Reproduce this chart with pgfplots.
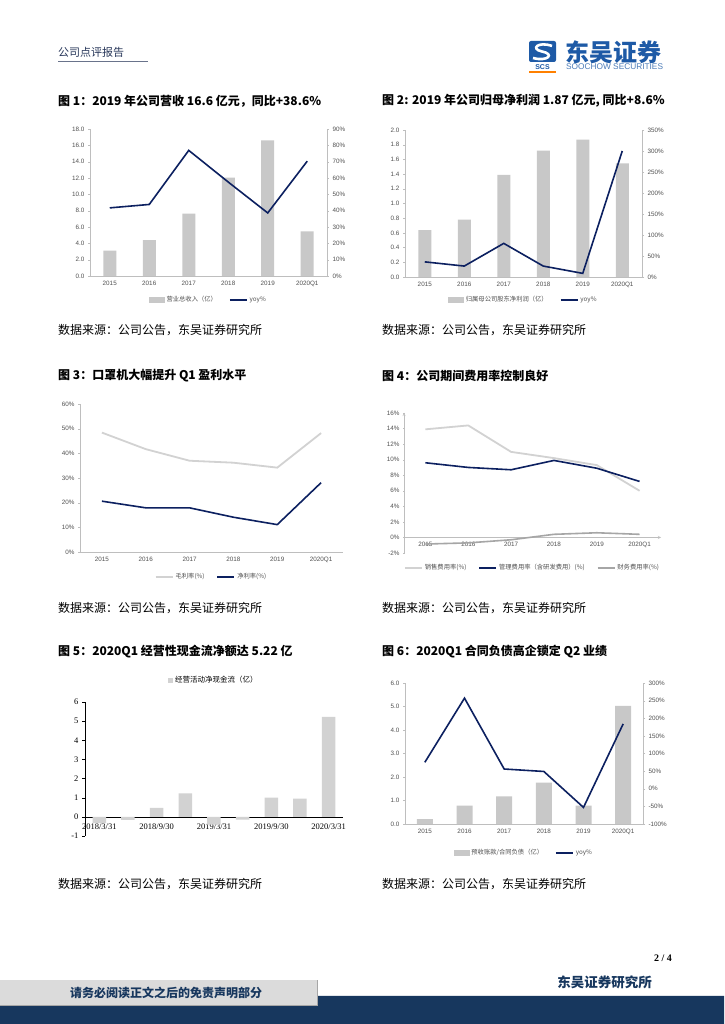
\documentclass[border=0pt]{standalone}
\usepackage{fontspec}
\setmainfont{Liberation Sans}
\newfontfamily\cjk{Noto Sans CJK SC}
\newfontfamily\tnr{Liberation Serif}
\usepackage{pgfplots}
\pgfplotsset{compat=1.18}

\definecolor{navy}{RGB}{12,32,96}
\definecolor{bargray}{RGB}{200,200,200}
\definecolor{lightln}{RGB}{210,210,210}
\definecolor{midln}{RGB}{166,166,166}
\definecolor{axgray}{RGB}{190,190,190}
\definecolor{lblgray}{RGB}{80,80,80}
\definecolor{footnavy}{RGB}{23,55,94}
\definecolor{logoblue}{RGB}{30,90,166}
\definecolor{hdrblue}{RGB}{40,55,90}

\pgfplotsset{
  base/.style={scale only axis, clip=false,
    /pgf/number format/assume math mode=true,
    ticklabel style={font=\fontsize{6.3}{7}\selectfont, text=lblgray},
    axis line style={axgray,-}, tick style={axgray},
    xmin=-0.5, xmax=5.5, xtick={0,...,5},
    xticklabels={2015,2016,2017,2018,2019,2020Q1},
    major x tick style={draw=none},
    tick align=outside, major tick length=2pt},
  pct/.style={yticklabel={\pgfmathprintnumber{\tick}\%}},
  dec/.style={yticklabel style={/pgf/number format/.cd, fixed, fixed zerofill, precision=1}},
  leg/.style={legend style={draw=none, fill=none,
    font=\fontsize{6.3}{7}\selectfont\cjk, text=lblgray,
    legend columns=-1, /tikz/every even column/.append style={column sep=10pt},
    anchor=center, at={(0.5,#1)}}},
}

\begin{document}
\begin{tikzpicture}[x=1pt,y=1pt]
\path[use as bounding box, fill=white] (0,0) rectangle (724,1024);

% header
\node[anchor=west, inner sep=0, text=hdrblue, font=\cjk\fontsize{11}{13}\selectfont] at (58,972) {公司点评报告};
\draw[hdrblue!70, line width=0.7pt] (58,963) -- (148,963);
\fill[logoblue, rounded corners=2pt] (529,962) rectangle (556,983);
\draw[white, line width=2.6pt] (552,978) .. controls (538,983) and (530,975) .. (542,972.5) .. controls (555,970) and (548,962) .. (533,966);
\node[text=logoblue, font=\bfseries\fontsize{7}{8}\selectfont, inner sep=0] at (542.5,957) {SCS};
\draw[orange, line width=1.5pt] (529,952) -- (556,952);
\node[anchor=west, inner sep=0, text=logoblue, font=\cjk\bfseries\fontsize{24}{26}\selectfont] at (565,972) {东吴证券};
\node[anchor=west, inner sep=0, text=logoblue!80, font=\fontsize{8.3}{9}\selectfont] at (566,957) {SOOCHOW SECURITIES};

% captions
\begin{scope}[every node/.style={anchor=west, inner sep=0, font=\cjk\bfseries\fontsize{12}{14}\selectfont}]
\node at (58,923) {图 1：2019 年公司营收 16.6 亿元，同比+38.6\%};
\node at (382,923) {图 2: 2019 年公司归母净利润 1.87 亿元, 同比+8.6\%};
\node at (58,648) {图 3：口罩机大幅提升 Q1 盈利水平};
\node at (382,648) {图 4：公司期间费用率控制良好};
\node at (58,372) {图 5：2020Q1 经营性现金流净额达 5.22 亿};
\node at (382,372) {图 6：2020Q1 合同负债高企锁定 Q2 业绩};
\end{scope}
\begin{scope}[every node/.style={anchor=west, inner sep=0, font=\cjk\fontsize{12}{14}\selectfont}]
\node at (58,694) {数据来源：公司公告，东吴证券研究所};
\node at (382,694) {数据来源：公司公告，东吴证券研究所};
\node at (58,416) {数据来源：公司公告，东吴证券研究所};
\node at (382,416) {数据来源：公司公告，东吴证券研究所};
\node at (58,140) {数据来源：公司公告，东吴证券研究所};
\node at (382,140) {数据来源：公司公告，东吴证券研究所};
\end{scope}

\coordinate (c1) at (90,748);
\coordinate (c2) at (405,747);
\coordinate (c3) at (80,472);
\coordinate (c4) at (404,471);
\coordinate (c5) at (85,188);
\coordinate (c6) at (405,200);

% chart 1
\begin{axis}[base, dec, at={(c1)}, anchor=south west, width=237pt, height=147pt,
  axis y line*=left, axis x line*=bottom, ymin=0, ymax=18, ytick={0,2,...,18}]
\addplot[ybar, bar width=13pt, fill=bargray, draw=none] coordinates {(0,3.1) (1,4.38) (2,7.65) (3,12.05) (4,16.6) (5,5.45)};
\end{axis}
\begin{axis}[base, pct, leg=-0.163, at={(c1)}, anchor=south west, width=237pt, height=147pt,
  axis y line*=right, axis x line=none, ymin=0, ymax=90, ytick={0,10,...,90}]
\addlegendimage{legend image code/.code={\fill[bargray] (0pt,-2.5pt) rectangle (15pt,2.5pt);}}
\addlegendentry{营业总收入（亿）}
\addplot[navy, line width=1.6pt] coordinates {(0,41.7) (1,43.8) (2,76.9) (3,57.5) (4,38.6) (5,70.3)};
\addlegendentry{yoy\%}
\end{axis}

% chart 2
\begin{axis}[base, dec, at={(c2)}, anchor=south west, width=237pt, height=147pt,
  axis y line*=left, axis x line*=bottom, ymin=0, ymax=2, ytick={0,0.2,...,2.01}]
\addplot[ybar, bar width=13pt, fill=bargray, draw=none] coordinates {(0,0.636) (1,0.78) (2,1.39) (3,1.72) (4,1.87) (5,1.545)};
\end{axis}
\begin{axis}[base, pct, leg=-0.156, at={(c2)}, anchor=south west, width=237pt, height=147pt,
  axis y line*=right, axis x line=none, ymin=0, ymax=350, ytick={0,50,...,350}]
\addlegendimage{legend image code/.code={\fill[bargray] (0pt,-2.5pt) rectangle (15pt,2.5pt);}}
\addlegendentry{归属母公司股东净利润（亿）}
\addplot[navy, line width=1.6pt] coordinates {(0,36) (1,26) (2,80) (3,26) (4,8.6) (5,300)};
\addlegendentry{yoy\%}
\end{axis}

% chart 3
\begin{axis}[base, pct, leg=-0.169, at={(c3)}, anchor=south west, width=263pt, height=148pt,
  axis y line*=left, axis x line*=bottom, ymin=0, ymax=60, ytick={0,10,...,60}]
\addplot[lightln, line width=1.8pt] coordinates {(0,48.4) (1,41.7) (2,37.0) (3,36.2) (4,34.2) (5,48.2)};
\addlegendentry{毛利率(\%)}
\addplot[navy, line width=1.6pt] coordinates {(0,20.6) (1,17.9) (2,17.9) (3,14.1) (4,11.1) (5,28.1)};
\addlegendentry{净利率(\%)}
\end{axis}

% chart 4
\begin{axis}[base, pct, leg=-0.107, at={(c4)}, anchor=south west, width=257pt, height=140pt,
  axis y line=left, axis x line=middle, hide obscured x ticks=false, hide obscured y ticks=false,
  ymin=-2, ymax=16, ytick={-2,0,...,16}]
\addplot[lightln, line width=1.8pt] coordinates {(0,13.9) (1,14.4) (2,11.0) (3,10.2) (4,9.3) (5,6.0)};
\addlegendentry{销售费用率(\%)}
\addplot[navy, line width=1.6pt] coordinates {(0,9.6) (1,9.0) (2,8.7) (3,9.9) (4,8.9) (5,7.2)};
\addlegendentry{管理费用率（含研发费用）(\%)}
\addplot[midln, line width=1.6pt] coordinates {(0,-0.85) (1,-0.7) (2,-0.3) (3,0.4) (4,0.6) (5,0.4)};
\addlegendentry{财务费用率(\%)}
\end{axis}

% chart 5
\begin{axis}[scale only axis, clip=false, at={(c5)}, anchor=south west, width=258pt, height=134pt,
  /pgf/number format/assume math mode=true,
  ticklabel style={font=\tnr\fontsize{8.5}{9}\selectfont, text=black},
  axis y line=left, axis x line=middle, axis line style={black,-}, tick style={black},
  hide obscured x ticks=false, hide obscured y ticks=false,
  xmin=-0.5, xmax=8.5, ymin=-1, ymax=6, ytick={-1,0,...,6},
  xtick={0,2,4,6,8}, xticklabels={2018/3/31,2018/9/30,2019/3/31,2019/9/30,2020/3/31},
  major x tick style={draw=none}, tick align=outside, major tick length=3pt,
  legend style={draw=none, fill=none, font=\cjk\fontsize{7.5}{9}\selectfont, anchor=center, at={(0.5,1.164)}}]
\addplot[ybar, bar width=13.5pt, fill=lightln, draw=none,
  legend image code/.code={\fill[lightln] (0pt,-2.5pt) rectangle (5pt,2.5pt);}]
  coordinates {(0,-0.33) (1,-0.16) (2,0.47) (3,1.23) (4,-0.4) (5,-0.14) (6,1.0) (7,0.95) (8,5.22)};
\addlegendentry{经营活动净现金流（亿）}
\end{axis}

% chart 6
\begin{axis}[base, dec, at={(c6)}, anchor=south west, width=238pt, height=141pt,
  axis y line*=left, axis x line*=bottom, ymin=0, ymax=6, ytick={0,...,6}]
\addplot[ybar, bar width=16pt, fill=bargray, draw=none] coordinates {(0,0.21) (1,0.78) (2,1.18) (3,1.76) (4,0.78) (5,5.03)};
\end{axis}
\begin{axis}[base, pct, leg=-0.206, at={(c6)}, anchor=south west, width=238pt, height=141pt,
  axis y line*=right, axis x line=none, ymin=-100, ymax=300, ytick={-100,-50,...,300}]
\addlegendimage{legend image code/.code={\fill[bargray] (0pt,-2.5pt) rectangle (15pt,2.5pt);}}
\addlegendentry{预收账款/合同负债（亿）}
\addplot[navy, line width=1.6pt] coordinates {(0,75) (1,257) (2,56) (3,49) (4,-53) (5,184)};
\addlegendentry{yoy\%}
\end{axis}

% footer
\node[anchor=east, inner sep=0, font=\tnr\bfseries\fontsize{10}{12}\selectfont] at (672,66) {2 / 4};
\node[anchor=east, inner sep=0, text=footnavy, font=\cjk\bfseries\fontsize{13.5}{15}\selectfont] at (652,42) {东吴证券研究所};
\fill[footnavy] (0,0) -- (724,0) -- (724,28) -- (317,28) -- (317,19) -- (0,19) -- cycle;
\fill[black!14] (0,19) rectangle (317,44);
\draw[black!35, line width=0.8pt] (0,19) -- (317,19) -- (317,44);
\node[inner sep=0, text=footnavy, font=\cjk\bfseries\fontsize{12}{14}\selectfont] at (166,31) {请务必阅读正文之后的免责声明部分};
\end{tikzpicture}
\end{document}
